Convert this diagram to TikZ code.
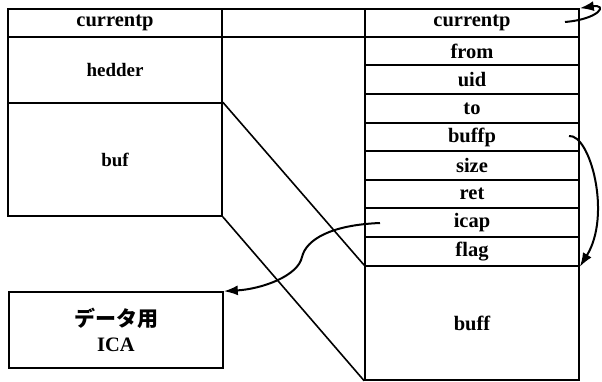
\documentclass[tikz,border=0pt]{standalone}
\usepackage{fontspec}
\setmainfont{Liberation Serif}
\newfontfamily\jpfont{Noto Sans CJK JP}
\usetikzlibrary{arrows.meta}
\begin{document}
\begin{tikzpicture}[x=1pt,y=-1pt,
  line width=1.6pt,
  cell/.style={draw, line width=1.6pt, minimum width=#1, inner sep=0pt,
    font=\fontsize{20.5}{22}\selectfont\bfseries},
  cell/.default=214pt,
  ptr/.style={line width=2pt, -{Latex[length=14pt,width=10pt]}}]
\useasboundingbox (0,0) rectangle (602,382);

% left structure
\node[cell, minimum height=28pt] (lcur) at (115,23) {currentp};
\node[cell, minimum height=66pt, font=\fontsize{19}{21}\selectfont\bfseries] (hed) at (115,70) {hedder};
\node[cell, minimum height=113pt, font=\fontsize{19}{21}\selectfont\bfseries] (buf) at (115,159.5) {buf};

% middle header cell
\node[cell=143pt, minimum height=28pt] (mid) at (293.5,23) {};

% right structure
\node[cell, minimum height=28pt] (rcur)  at (472,23)    {currentp};
\node[cell, minimum height=28pt] (from)  at (472,51)    {from};
\node[cell, minimum height=29pt] (uid)   at (472,79.5)  {uid};
\node[cell, minimum height=29pt] (to)    at (472,108.5) {to};
\node[cell, minimum height=28pt] (buffp) at (472,137)   {buffp};
\node[cell, minimum height=29pt] (size)  at (472,165.5) {size};
\node[cell, minimum height=28pt] (ret)   at (472,194)   {ret};
\node[cell, minimum height=29pt] (icap)  at (472,222.5) {icap};
\node[cell, minimum height=29pt] (flag)  at (472,251.5) {flag};
\node[cell, minimum height=114pt] (buff) at (472,323)   {buff};

% ICA block
\node[draw, line width=1.6pt, minimum width=214pt, minimum height=76pt,
  align=center, inner sep=0pt] (ica) at (116,330)
  {{\jpfont\bfseries\fontsize{21}{23}\selectfont データ用}\\[8pt]
   {\fontsize{20.5}{22}\selectfont\bfseries ICA}};

% projection of buf onto buff
\draw (buf.north east) -- (buff.north west);
\draw (buf.south east) -- (buff.south west);

% pointer sources
\coordinate (scur)  at (565,22);
\coordinate (sbufp) at (569,136);
\coordinate (sicap) at (380,223);

% pointers
\draw[ptr] (scur) .. controls (600,19) and (608,4) .. (rcur.north east);
\draw[ptr] (sbufp) .. controls (590,134) and (612,215) .. (flag.south east);
\draw[ptr] (sicap) .. controls (330,225) and (306,240) .. (302,257)
  .. controls (298,276) and (262,289) .. (ica.north east);
\end{tikzpicture}
\end{document}
